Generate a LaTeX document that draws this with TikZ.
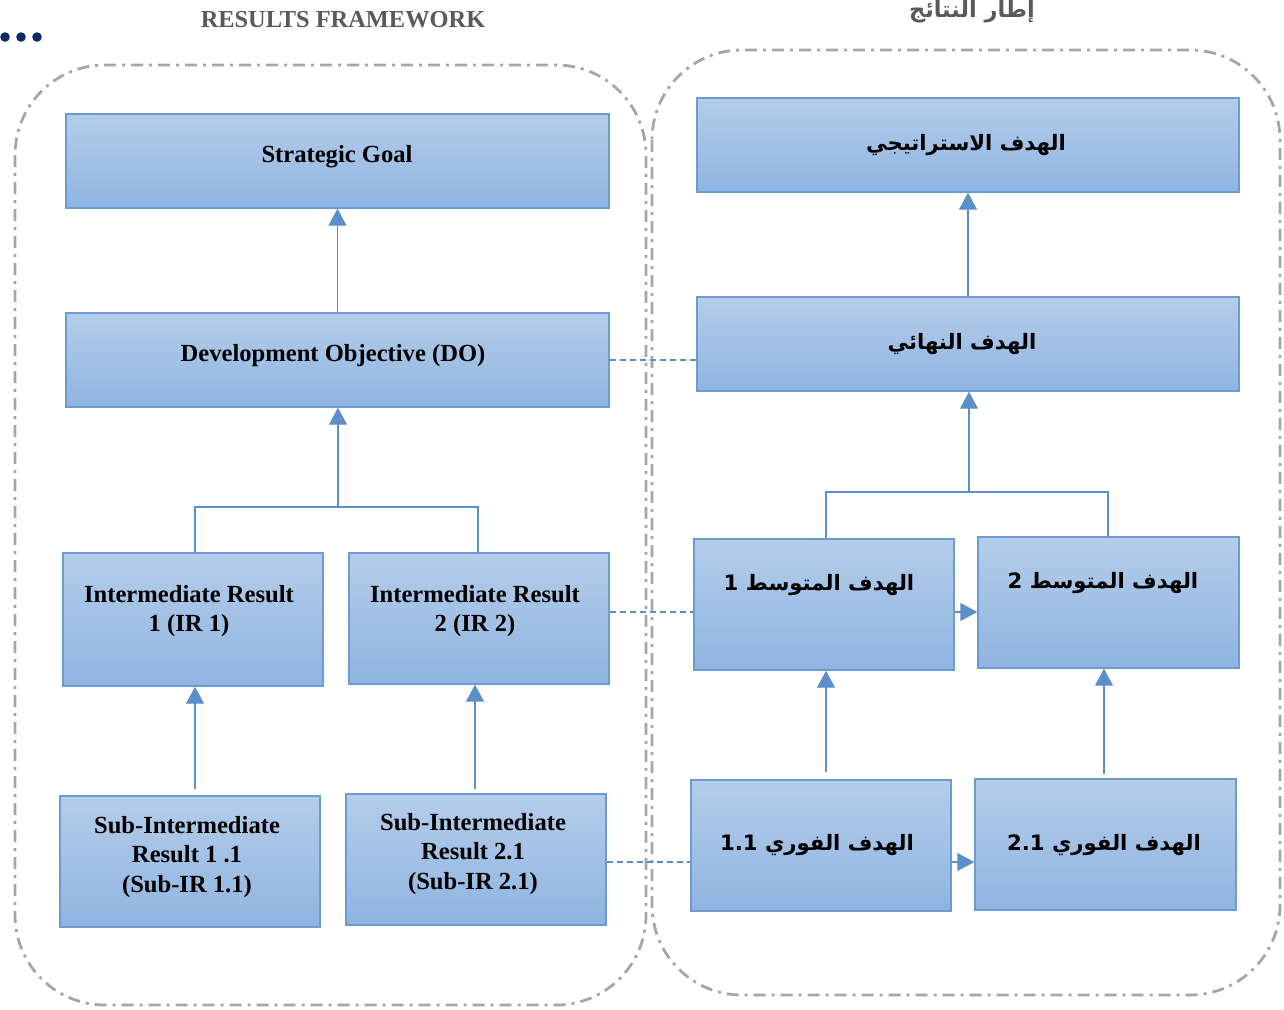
\documentclass[tikz,border=0pt]{standalone}
\usepackage{fontspec}
\setmainfont{Liberation Serif}
\newfontfamily\arabicfont[Script=Arabic]{DejaVu Sans}
\TeXXeTstate=1
\usetikzlibrary{arrows.meta,calc}
\definecolor{boxtop}{HTML}{B4CDEA}
\definecolor{boxbot}{HTML}{8FB4E1}
\definecolor{boxline}{HTML}{6C9BD2}
\definecolor{conn}{HTML}{5B8FC8}
\definecolor{regline}{HTML}{A6A6A6}
\definecolor{titlegray}{HTML}{5A5A5A}
\definecolor{navy}{HTML}{0B2A66}
\begin{document}
\begin{tikzpicture}[x=1pt,y=-1pt,
  rbox/.style={draw=boxline, line width=1.4pt, top color=boxtop, bottom color=boxbot,
    rectangle, inner sep=0pt},
  en/.style={font=\bfseries\fontsize{24.6}{29.5}\selectfont, align=center, inner sep=0pt},
  ar/.style={font=\arabicfont\bfseries\fontsize{21.2}{26}\selectfont, inner sep=0pt},
  arr/.style={draw=conn, line width=1.3pt, -{Triangle[width=18pt,length=17pt]}},
  plain/.style={draw=conn, line width=1.3pt},
  link/.style={draw=conn, line width=1.2pt, dash pattern=on 6pt off 4pt},
  region/.style={draw=regline, line width=2.8pt, rounded corners=90pt,
    dash pattern=on 12pt off 6pt on 3pt off 6pt},
  ttl/.style={text=titlegray, inner sep=0pt}
]
\useasboundingbox (0,0) rectangle (1284,1009);

% regions
\draw[region] (15,65) rectangle (646,1005);
\draw[region] (652,50) rectangle (1280,995);

% titles
\node[ttl, font=\bfseries\fontsize{24.4}{28}\selectfont] (t1) at (343,20) {RESULTS FRAMEWORK};
\node[ttl, font=\arabicfont\bfseries\fontsize{22.5}{28}\selectfont] (t2) at (972,12) {\beginR إطار النتائج\endR};

% dots
\fill[navy] (5,37) circle (4.8) (21,37) circle (4.8) (37,37) circle (4.8);

% left boxes
\node[rbox, minimum width=543pt, minimum height=94pt] (sg) at (337.5,161) {};
\node[rbox, minimum width=543pt, minimum height=94pt] (do) at (337.5,360) {};
\node[rbox, minimum width=260pt, minimum height=133pt] (ir1) at (193,619.5) {};
\node[rbox, minimum width=260pt, minimum height=131pt] (ir2) at (479,618.5) {};
\node[rbox, minimum width=260pt, minimum height=131pt] (sub1) at (190,861.5) {};
\node[rbox, minimum width=260pt, minimum height=131pt] (sub2) at (476,859.5) {};

\node[en] (sgt) at (337,157) {Strategic Goal};
\node[en] (dot) at (333,356) {Development Objective (DO)};
\node[en] (ir1t) at (189,611) {Intermediate Result\\1 (IR 1)};
\node[en] (ir2t) at (475,611) {Intermediate Result\\2 (IR 2)};
\node[en] (sub1t) at (187,857) {Sub-Intermediate\\Result 1 .1\\(Sub-IR 1.1)};
\node[en] (sub2t) at (473,854) {Sub-Intermediate\\Result 2.1\\(Sub-IR 2.1)};

% right boxes
\node[rbox, minimum width=542pt, minimum height=94pt] (rsg) at (968,145) {};
\node[rbox, minimum width=542pt, minimum height=94pt] (fin) at (968,344) {};
\node[rbox, minimum width=260pt, minimum height=131pt] (mid1) at (824,604.5) {};
\node[rbox, minimum width=261pt, minimum height=131pt] (mid2) at (1108.5,602.5) {};
\node[rbox, minimum width=260pt, minimum height=131pt] (imm1) at (821,845.5) {};
\node[rbox, minimum width=261pt, minimum height=131pt] (imm2) at (1105.5,844.5) {};

\node[ar] (rsgt) at (966,145) {\beginR الهدف الاستراتيجي\endR};
\node[ar] (fint) at (962,344) {\beginR الهدف  النهائي\endR};
\node[ar] (mid1t) at (819,585) {\beginR الهدف المتوسط 1\endR};
\node[ar] (mid2t) at (1103,583) {\beginR الهدف المتوسط 2\endR};
\node[ar] (imm1t) at (817,845) {\beginR الهدف الفوري \beginL1.1\endL\endR};
\node[ar] (imm2t) at (1104,845) {\beginR الهدف الفوري \beginL2.1\endL\endR};

% left connectors
\draw[arr] (do.north) -- (sg.south);
\coordinate (jl) at (338,507);
\draw[plain] (ir1.north -| 195,0) |- (jl);
\draw[plain] (ir2.north -| 478,0) |- (jl);
\draw[arr] (jl) -- (do.south -| jl);
\draw[arr, shorten <=6pt] (sub1.north -| 195,0) -- (ir1.south -| 195,0);
\draw[arr, shorten <=4pt] (sub2.north -| 475,0) -- (ir2.south -| 475,0);

% right connectors
\draw[arr] (fin.north) -- (rsg.south);
\coordinate (jr) at (969,492);
\draw[plain] (mid1.north -| 826,0) |- (jr);
\draw[plain] (mid2.north -| 1108,0) |- (jr);
\draw[arr] (jr) -- (fin.south -| jr);
\draw[arr, shorten <=7pt] (imm1.north -| 826,0) -- (mid1.south -| 826,0);
\draw[arr, shorten <=4pt] (imm2.north -| 1104,0) -- (mid2.south -| 1104,0);
\draw[arr] (mid1.east |- 0,612) -- (mid2.west |- 0,612);
\draw[arr] (imm1.east |- 0,862) -- (imm2.west |- 0,862);

% dashed links
\draw[link] (do.east |- 0,360) -- (fin.west |- 0,360);
\draw[link] (ir2.east |- 0,612) -- (mid1.west |- 0,612);
\draw[link] (sub2.east |- 0,862) -- (imm1.west |- 0,862);
\end{tikzpicture}
\end{document}
